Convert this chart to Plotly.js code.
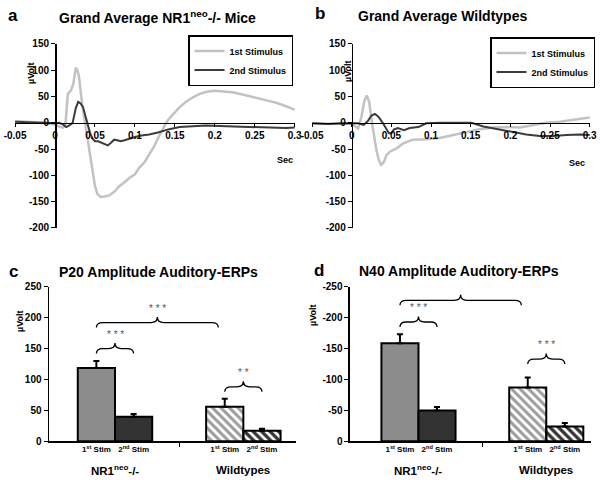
<!DOCTYPE html>
<html>
<head>
<meta charset="utf-8">
<script src="https://cdn.plot.ly/plotly-3.0.1.min.js"></script>
<style>html,body{margin:0;padding:0;background:#fff}</style>
</head>
<body>
<div id="chart" style="width:600px;height:486px"></div>
<script>
// ---- panel a: grand average NR1neo-/- mice (sec, µVolt) ----
const timeA1 = [-0.05,-0.03,-0.01,0,0.005,0.01,0.013,0.016,0.02,0.023,0.026,0.028,0.03,0.034,0.038,0.041,0.044,0.047,0.05,0.053,0.057,0.062,0.068,0.075,0.08,0.087,0.093,0.1,0.105,0.112,0.118,0.124,0.13,0.135,0.139,0.144,0.149,0.156,0.164,0.172,0.181,0.19,0.2,0.21,0.222,0.232,0.243,0.254,0.264,0.275,0.285,0.295,0.3];
const voltA1 = [3,1,0,-3,-7,-9,-4,55,62,75,105,100,88,35,-5,-32,-65,-95,-120,-135,-141,-140,-138,-130,-121,-113,-105,-98,-86,-75,-61,-45,-26,-12,0,10,19,30,40,48,55,59,61,60,58,55,51,47,44,39,34,28,25];
const timeA2 = [-0.05,-0.03,-0.01,0,0.005,0.01,0.014,0.018,0.022,0.026,0.029,0.032,0.035,0.038,0.041,0.044,0.047,0.05,0.054,0.058,0.062,0.066,0.07,0.074,0.078,0.082,0.087,0.093,0.1,0.108,0.118,0.13,0.143,0.156,0.172,0.189,0.206,0.222,0.239,0.256,0.272,0.289,0.3];
const voltA2 = [2,1,-1,-1,0,-3,-8,-5,0,28,40,37,30,12,-5,-20,-30,-35,-35,-38,-40,-43,-38,-32,-33,-35,-33,-30,-27,-24,-22,-18,-12,-8,-6,-5,-6,-7,-7,-9,-10,-10,-9];

// ---- panel b: grand average wildtypes ----
const timeB1 = [-0.05,-0.03,-0.01,0,0.004,0.008,0.012,0.016,0.019,0.022,0.025,0.028,0.031,0.034,0.037,0.04,0.044,0.048,0.052,0.057,0.065,0.077,0.094,0.111,0.128,0.145,0.161,0.178,0.195,0.212,0.229,0.245,0.262,0.279,0.3];
const voltB1 = [-1,-2,-1,-2,-6,-11,10,42,52,40,6,-25,-51,-70,-80,-76,-61,-55,-52,-48,-39,-32,-31,-29,-23,-17,-12,-9,-8,-9,-4,0,2,6,10];
const timeB2 = [-0.05,-0.03,-0.01,0,0.008,0.015,0.02,0.025,0.029,0.032,0.035,0.039,0.043,0.047,0.05,0.053,0.058,0.062,0.066,0.073,0.084,0.094,0.111,0.136,0.151,0.166,0.187,0.203,0.22,0.237,0.254,0.271,0.287,0.3];
const voltB2 = [-1,-2,-1,-1,-1,-4,3,14,17,14,9,0,-10,-20,-20,-13,-10,-12,-14,-10,-8,-1,0,0,0,-7,-13,-18,-22,-25,-25,-23,-22,-23];

const timeTicks = [-0.05,0,0.05,0.1,0.15,0.2,0.25,0.3];
const timeTickText = ['-0.05','0','0.05','0.1','0.15','0.2','0.25','0.3'];
const voltTicks = [150,100,50,0,-50,-100,-150,-200];
const voltTickText = ['150','100','50','0','-50','-100','-150','-200'];

// ---- panels c and d: amplitudes ----
const groups = ['NR1<sup>neo</sup>-/-', 'Wildtypes'];
const stimLabels = ['1<sup>st</sup> Stim', '2<sup>nd</sup> Stim'];
const p20First = [118.7, 55.8];
const p20FirstErr = [11.3, 12.9];
const p20Second = [39.7, 17];
const p20SecondErr = [4.3, 3.3];
const n40First = [-158.7, -87];
const n40FirstErr = [14.3, 16];
const n40Second = [-50, -24];
const n40SecondErr = [5.5, 5.6];
const p20Ticks = [0,50,100,150,200,250];
const p20TickText = ['0','50','100','150','200','250'];
const n40Ticks = [0,-50,-100,-150,-200,-250];
const n40TickText = ['0','-50','-100','-150','-200','-250'];

const FONT = 'Liberation Sans, Arial, sans-serif';
const LIGHT = '#c2c2c2', DARK = '#3c3c3c';
const BARGAP = 0.42;
const barW = (1 - BARGAP) / 2;
const barOff = [-barW / 2, barW / 2];

const domA = [0.025, 0.4917], domB = [0.52, 0.9833];
const domTop = [0.5309, 0.9095];
const domC = [0.0817, 0.4933], domD = [0.5833, 0.985];
const domBot = [0.092, 0.41];
const tRange = [-0.0501, 0.3004], vRange = [-200, 150];

function zeroPos(dom, range) {
  return dom[0] + (0 - range[0]) / (range[1] - range[0]) * (dom[1] - dom[0]);
}

const tickFont = {family: FONT, size: 10, color: '#000', weight: 'bold'};

function lineX(dom) {
  return {domain: dom, range: tRange, anchor: 'free', position: zeroPos(domTop, vRange),
    showline: true, linecolor: '#000', linewidth: 1.5, ticks: 'outside', ticklen: 3,
    tickcolor: '#000', tickvals: timeTicks, ticktext: timeTickText, tickfont: tickFont,
    showgrid: false, zeroline: false};
}
function lineY(xdom) {
  return {domain: domTop, range: vRange, anchor: 'free', position: zeroPos(xdom, tRange),
    showline: true, linecolor: '#000', linewidth: 1.5, ticks: 'outside', ticklen: 4,
    tickcolor: '#000', tickvals: voltTicks, ticktext: voltTickText, tickfont: tickFont,
    showgrid: false, zeroline: false};
}
function barX(dom, range, anchor) {
  return {domain: dom, range: range, anchor: anchor, showline: true, linecolor: '#000',
    linewidth: 1.5, ticks: '', tickvals: [0, 0, 1, 1].map((g, i) => g + barOff[i % 2]),
    ticktext: [0, 1, 0, 1].map(i => stimLabels[i]),
    tickfont: {family: FONT, size: 8, color: '#000', weight: 'bold'},
    minor: {tickvals: [0.5], ticks: 'outside', ticklen: 4, tickcolor: '#000', tickwidth: 1},
    showgrid: false, zeroline: false};
}
function barY(dom, range, ticks, text, anchor) {
  return {domain: dom, range: range, anchor: anchor, showline: true, linecolor: '#000',
    linewidth: 1.5, ticks: 'outside', ticklen: 4, tickcolor: '#000', tickvals: ticks,
    ticktext: text, tickfont: tickFont, showgrid: false, zeroline: false};
}

// solid bars for NR1neo-/-, hatched bars for wildtypes (marker colour = stripe colour)
const firstMarker = {
  color: ['#8c8c8c', '#9c9c9c'],
  line: {color: '#000', width: 2},
  pattern: {shape: ['', '\\'], bgcolor: ['#8c8c8c', '#f2f2f2'], size: 6, solidity: 0.5}
};
const secondMarker = {
  color: ['#333333', '#333333'],
  line: {color: '#000', width: 2},
  pattern: {shape: ['', '\\'], bgcolor: ['#333333', '#bdbdbd'], size: 6, solidity: 0.55}
};

function barTrace(vals, errs, marker, xa, ya, neg, idx) {
  const zeros = errs.map(() => 0);
  return {type: 'bar', x: [0, 1], y: vals, xaxis: xa, yaxis: ya, marker: marker,
    offsetgroup: String(idx), showlegend: false, hoverinfo: 'skip',
    error_y: {type: 'data', symmetric: false, array: neg ? zeros : errs, arrayminus: neg ? errs : zeros,
      color: '#000', thickness: 2, width: 3}};
}

const traces = [
  {x: timeA1, y: voltA1, type: 'scatter', mode: 'lines', name: '1st Stimulus', line: {color: LIGHT, width: 2.5}, xaxis: 'x', yaxis: 'y', legend: 'legend'},
  {x: timeA2, y: voltA2, type: 'scatter', mode: 'lines', name: '2nd Stimulus', line: {color: DARK, width: 2}, xaxis: 'x', yaxis: 'y', legend: 'legend'},
  {x: timeB1, y: voltB1, type: 'scatter', mode: 'lines', name: '1st Stimulus', line: {color: LIGHT, width: 2.5}, xaxis: 'x2', yaxis: 'y2', legend: 'legend2'},
  {x: timeB2, y: voltB2, type: 'scatter', mode: 'lines', name: '2nd Stimulus', line: {color: DARK, width: 2}, xaxis: 'x2', yaxis: 'y2', legend: 'legend2'},
  barTrace(p20First, p20FirstErr, firstMarker, 'x3', 'y3', false, 0),
  barTrace(p20Second, p20SecondErr, secondMarker, 'x3', 'y3', false, 1),
  barTrace(n40First, n40FirstErr, firstMarker, 'x4', 'y4', true, 0),
  barTrace(n40Second, n40SecondErr, secondMarker, 'x4', 'y4', true, 1)
];

// significance braces: from bar [group, stim] to bar [group, stim]
function bracePath(x0, x1, y, dir) {
  const h = 8 * dir, t = 9 * dir, dx = 0.05, xm = (x0 + x1) / 2;
  return `M${x0},${y - h} Q${x0},${y} ${x0 + dx},${y} L${xm - dx},${y} Q${xm},${y} ${xm},${y + t} ` +
    `Q${xm},${y} ${xm + dx},${y} L${x1 - dx},${y} Q${x1},${y} ${x1},${y - h}`;
}
const braces = [
  {xa: 'x3', ya: 'y3', from: [0, 0], to: [0, 1], y: 150, dir: 1, stars: '* * *', trim: 0},
  {xa: 'x3', ya: 'y3', from: [0, 0], to: [1, 0], y: 192, dir: 1, stars: '* * *', trim: 0.05},
  {xa: 'x3', ya: 'y3', from: [1, 0], to: [1, 1], y: 88, dir: 1, stars: '* *', trim: 0},
  {xa: 'x4', ya: 'y4', from: [0, 0], to: [0, 1], y: -193, dir: -1, stars: '* * *', trim: 0},
  {xa: 'x4', ya: 'y4', from: [0, 0], to: [1, 0], y: -228, dir: -1, stars: '* * *', trim: 0.05},
  {xa: 'x4', ya: 'y4', from: [1, 0], to: [1, 1], y: -133, dir: -1, stars: '* * *', trim: 0}
];
const shapes = [], annotations = [];
braces.forEach(b => {
  const x0 = b.from[0] + barOff[b.from[1]];
  const x1 = b.to[0] + barOff[b.to[1]] - b.trim;
  shapes.push({type: 'path', xref: b.xa, yref: b.ya, path: bracePath(x0, x1, b.y, b.dir),
    line: {color: '#000', width: 1.3}});
  annotations.push({xref: b.xa, yref: b.ya, x: (x0 + x1) / 2, y: b.y + 23 * b.dir, text: b.stars,
    showarrow: false, font: {family: FONT, size: 10, color: '#555'}});
});

function txt(x, y, text, size, extra) {
  return Object.assign({xref: 'paper', yref: 'paper', x: x / 600, y: 1 - y / 486, text: text,
    showarrow: false, xanchor: 'left', yanchor: 'middle',
    font: {family: FONT, size: size, color: '#000', weight: 'bold'}}, extra || {});
}
annotations.push(
  txt(6, 15, 'a', 17), txt(313, 14, 'b', 17), txt(7, 271, 'c', 17), txt(312, 270, 'd', 17),
  txt(57, 17, 'Grand Average NR1<sup>neo</sup>-/- Mice', 14),
  txt(356, 16, 'Grand Average Wildtypes', 14),
  txt(57, 272, 'P20 Amplitude Auditory-ERPs', 14),
  txt(357, 271, 'N40 Amplitude Auditory-ERPs', 14),
  txt(31, 73, 'µVolt', 9, {textangle: -90, xanchor: 'center'}),
  txt(348, 71, 'µVolt', 9, {textangle: -90, xanchor: 'center'}),
  txt(20, 321, 'µVolt', 9, {textangle: -90, xanchor: 'center'}),
  txt(313, 315, 'µVolt', 9, {textangle: -90, xanchor: 'center'}),
  txt(285, 160, 'Sec', 9, {xanchor: 'center'}),
  txt(577, 163, 'Sec', 9, {xanchor: 'center'})
);
['x3', 'x4'].forEach(xa => groups.forEach((g, i) => {
  annotations.push({xref: xa, yref: 'paper', x: i, y: 1 - 470 / 486, yanchor: 'middle', text: g,
    showarrow: false, font: {family: FONT, size: 11.5, color: '#000', weight: 'bold'}});
}));

const legendStyle = {xanchor: 'right', yanchor: 'top', bordercolor: '#000', borderwidth: 1.5,
  bgcolor: '#fff', itemwidth: 30, tracegroupgap: 0,
  font: {family: FONT, size: 9, color: '#000', weight: 'bold'}};

const layout = {
  width: 600, height: 486,
  margin: {l: 0, r: 0, t: 0, b: 0},
  paper_bgcolor: '#fff', plot_bgcolor: 'rgba(0,0,0,0)',
  font: {family: FONT, color: '#000'},
  barmode: 'group', bargap: BARGAP, bargroupgap: 0,
  xaxis: lineX(domA), yaxis: lineY(domA),
  xaxis2: lineX(domB), yaxis2: lineY(domB),
  xaxis3: barX(domC, [-0.514, 1.41], 'y3'),
  yaxis3: barY(domBot, [0, 250], p20Ticks, p20TickText, 'x3'),
  xaxis4: barX(domD, [-0.536, 1.35], 'y4'),
  yaxis4: barY(domBot, [0, -250], n40Ticks, n40TickText, 'x4'),
  legend: Object.assign({x: 293 / 600, y: 1 - 35 / 486}, legendStyle),
  legend2: Object.assign({x: 595 / 600, y: 1 - 37 / 486}, legendStyle),
  shapes: shapes,
  annotations: annotations
};

Plotly.newPlot('chart', traces, layout, {staticPlot: true});
</script>
</body>
</html>
